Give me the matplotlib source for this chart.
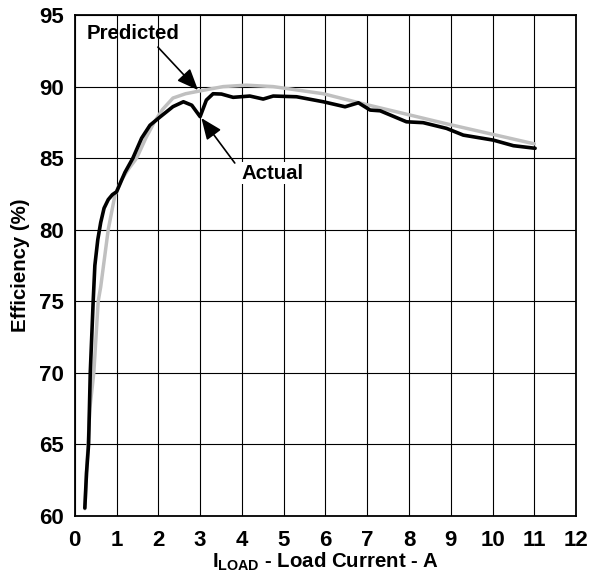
import matplotlib.pyplot as plt

plt.rcParams['font.family'] = ['Liberation Sans', 'DejaVu Sans']
plt.rcParams['font.weight'] = 'bold'
plt.rcParams['mathtext.fontset'] = 'custom'
plt.rcParams['mathtext.bf'] = 'Liberation Sans:bold'

# predicted efficiency (grey)
pred_x = [0.24, 0.30, 0.36, 0.455, 0.56, 0.62, 0.80, 0.96, 1.12, 1.30, 1.48,
          1.70, 1.90, 2.10, 2.35, 2.65, 3.00, 3.55, 4.10, 4.75, 5.95, 6.90,
          8.90, 11.0]
pred_y = [60.5, 64.0, 67.5, 70.0, 75.0, 76.0, 80.0, 82.4, 83.5, 84.3, 85.0,
          86.4, 87.5, 88.4, 89.2, 89.5, 89.7, 90.0, 90.1, 90.0, 89.5, 88.8,
          87.4, 86.0]

# measured efficiency (black)
act_x = [0.24, 0.28, 0.33, 0.37, 0.44, 0.48, 0.55, 0.62, 0.70, 0.80, 0.90,
         1.00, 1.20, 1.39, 1.60, 1.80, 2.05, 2.35, 2.60, 2.80, 3.00, 3.15,
         3.31, 3.51, 3.79, 4.19, 4.51, 4.75, 5.31, 5.95, 6.47, 6.79, 7.07,
         7.31, 7.94, 8.34, 8.90, 9.30, 10.02, 10.50, 11.02]
act_y = [60.55, 63.0, 65.0, 70.0, 75.0, 77.5, 79.3, 80.5, 81.5, 82.1, 82.45,
         82.65, 84.0, 85.0, 86.4, 87.3, 87.9, 88.6, 88.94, 88.7, 87.9, 89.06,
         89.5, 89.48, 89.25, 89.34, 89.13, 89.34, 89.29, 88.94, 88.59, 88.87,
         88.36, 88.31, 87.54, 87.48, 87.08, 86.61, 86.26, 85.87, 85.69]

x_ticks = list(range(0, 13))
y_ticks = [60, 65, 70, 75, 80, 85, 90, 95]

fig = plt.figure(figsize=(5.89, 5.79), dpi=100)
ax = fig.add_axes([0.127, 0.109, 0.851, 0.865])

ax.plot(pred_x, pred_y, color='#c0c0c0', lw=2.5, solid_capstyle='round', zorder=3)
ax.plot(act_x, act_y, color='black', lw=2.6, solid_capstyle='round', zorder=4)

ax.set_xlim(0, 12)
ax.set_ylim(60, 95)
ax.set_xticks(x_ticks)
ax.set_yticks(y_ticks)
ax.grid(True, color='black', lw=0.8)
ax.tick_params(length=0, labelsize=16)
ax.tick_params(axis='x', pad=10)
ax.tick_params(axis='y', pad=8)
for s in ax.spines.values():
    s.set_linewidth(1.3)

ax.set_xlabel(r'I$_{\mathbf{LOAD}}$ - Load Current - A', fontsize=14.7,
              fontweight='bold', labelpad=0)
ax.set_ylabel('Efficiency (%)', fontsize=14.7, fontweight='bold', labelpad=6)

arrow = dict(arrowstyle='-|>,head_length=0.65,head_width=0.27', mutation_scale=20,
             lw=1.2, color='black', shrinkA=0, shrinkB=0)
ax.annotate('', xy=(2.95, 89.76), xytext=(1.99, 92.76), arrowprops=arrow, zorder=6)
ax.text(0.29, 93.74, 'Predicted', fontsize=14.7, fontweight='bold',
        va='center', ha='left')
ax.annotate('', xy=(3.03, 87.8), xytext=(3.83, 84.66), arrowprops=arrow, zorder=6)
ax.text(3.99, 83.96, 'Actual', fontsize=14.7, fontweight='bold',
        va='center', ha='left', zorder=6,
        bbox=dict(facecolor='white', edgecolor='none', pad=1))

fig.savefig('out.png', dpi=100)
